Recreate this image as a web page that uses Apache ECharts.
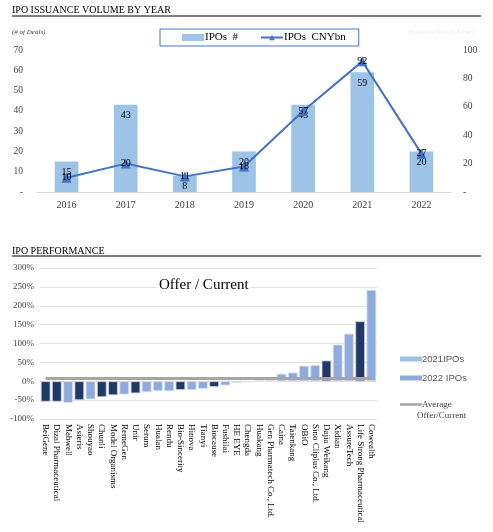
<!DOCTYPE html>
<html>
<head>
<meta charset="utf-8">
<title>IPO Issuance / Performance</title>
<script src="https://cdn.jsdelivr.net/npm/echarts@6/dist/echarts.min.js"></script>
<style>
    html, body { margin: 0; padding: 0; background: #fff; }
    #main { width: 493px; height: 532px; }
</style>
</head>
<body>
<div id="main"></div>
<script>
// top chart data
let years = ['2016', '2017', '2018', '2019', '2020', '2021', '2022'];
let ipoCount = [15, 43, 8, 20, 43, 59, 20];
let ipoSize = [10, 20, 11, 18, 57, 92, 27];

// bottom chart data (offer / current, %)
let companies = ['BeiGene', 'Dizal Pharmaceutical', 'Mabwell', 'Asieris', 'Shouyao', 'Chunli',
    'Model Organisms', 'RemeGen', 'Unir', 'Serum', 'Hualan', 'Rendu', 'Bio-Sincerity', 'Hinova',
    'Tianyi', 'Biocause', 'Fushilai', 'HE EYE', 'Chengda', 'Huakang', 'Gen Pharmatech Co., Ltd.',
    'Caina', 'Taienkang', 'OBiO', 'Sino Cliplus Co., Ltd.', 'Dajia Weikang', 'Xidian', 'AssureTech',
    'Life Strong Pharmaceutical', 'Cowealth'];
let perf = [-54, -54, -57, -50, -48, -42, -37, -35, -32, -29, -26, -26, -23, -23, -20, -15, -11, -4, -2,
    2, 3, 20, 23, 41, 43, 55, 97, 126, 159, 242];
let darkBar = [1, 1, 0, 1, 0, 1, 1, 0, 1, 0, 0, 0, 1, 0, 0, 1, 0, 0, 0, 0, 0, 0, 0, 0, 0, 1, 0, 0, 1, 0];
let perfTicks = ['-100%', '-50%', '0%', '50%', '100%', '150%', '200%', '250%', '300%'];

let serif = '"Liberation Serif", "Times New Roman", serif';
let sans = '"Liberation Sans", Arial, sans-serif';

let avg = perf.reduce(function (a, b) { return a + b; }, 0) / perf.length;
let lightData = perf.map(function (v, i) { return darkBar[i] ? null : v; });
let darkData = perf.map(function (v, i) { return darkBar[i] ? v : null; });
let avgData = perf.map(function () { return +avg.toFixed(1); });

function zeroDash(v) {
    return v === 0 ? '-' : v;
}

function perfLabel(v) {
    return perfTicks[(v + 100) / 50];
}

let myChart = echarts.init(document.getElementById('main'));

let option = {
    animation: false,
    textStyle: { fontFamily: serif },
    graphic: [
        { type: 'text', left: 12, top: 5, style: { text: 'IPO ISSUANCE VOLUME BY YEAR', font: '10px ' + serif, fill: '#000' } },
        { type: 'line', shape: { x1: 12, y1: 16, x2: 481, y2: 16 }, style: { stroke: '#000', lineWidth: 1 } },
        { type: 'text', left: 12, top: 29, style: { text: '(# of Deals)', font: 'italic 7px ' + serif, fill: '#404040' } },
        { type: 'text', left: 408, top: 29, style: { text: '(Issuance Size, CNYbn)', font: 'italic 7px ' + serif, fill: '#e3f0d8' } },
        { type: 'text', left: 12, top: 246, style: { text: 'IPO PERFORMANCE', font: '10px ' + serif, fill: '#000' } },
        { type: 'line', shape: { x1: 12, y1: 256, x2: 481, y2: 256 }, style: { stroke: '#000', lineWidth: 1 } },
        {
            type: 'text', left: 157, top: 277, z: 10,
            style: { text: 'Offer / Current', font: '15px ' + serif, fill: '#000', backgroundColor: '#fff', padding: [1, 2] }
        },
        { type: 'text', left: 417, top: 411, style: { text: 'Offer/Current', font: '9px ' + serif, fill: '#404040' } }
    ],
    legend: [{
        left: 160,
        top: 29,
        height: 18,
        padding: [3, 13, 3, 22],
        itemGap: 22,
        itemWidth: 22,
        itemHeight: 7,
        borderColor: '#4472C4',
        borderWidth: 1,
        textStyle: { fontFamily: serif, fontSize: 11, color: '#000', padding: [0, 0, 0, -4] },
        data: [{ name: 'IPOs  #', icon: 'rect' }, 'IPOs  CNYbn']
    }, {
        left: 395,
        top: 349,
        orient: 'vertical',
        itemGap: 9,
        itemWidth: 22,
        itemHeight: 5,
        textStyle: { fontFamily: sans, fontSize: 9.5, color: '#595959', padding: [0, 0, 0, -5] },
        data: [
            { name: '2021IPOs', icon: 'rect', itemStyle: { color: '#9DC3E6', borderWidth: 0 } },
            { name: '2022 IPOs', icon: 'rect', itemStyle: { color: '#8FAADC', borderWidth: 0 } }
        ]
    }, {
        left: 395,
        top: 395,
        itemWidth: 22,
        itemHeight: 2.5,
        textStyle: { fontFamily: serif, fontSize: 9, color: '#404040', padding: [0, 0, 0, -5] },
        formatter: function () { return 'Average'; },
        data: [{ name: 'Average Offer/Current', icon: 'rect', itemStyle: { color: '#A5A5A5' } }]
    }],
    grid: [
        { left: 37, right: 42, top: 50, height: 142 },
        { left: 40, right: 116, top: 268, height: 151 }
    ],
    xAxis: [{
        gridIndex: 0,
        type: 'category',
        data: years,
        axisLine: { lineStyle: { color: '#D9D9D9' } },
        axisTick: { show: false },
        axisLabel: { margin: 8, fontFamily: serif, fontSize: 10, color: '#404040' }
    }, {
        gridIndex: 1,
        type: 'category',
        data: companies,
        axisLine: { show: false, onZero: false },
        axisTick: { show: false },
        axisLabel: { rotate: -90, interval: 0, margin: 5, fontFamily: serif, fontSize: 9, color: '#000' }
    }],
    yAxis: [{
        gridIndex: 0,
        type: 'value',
        min: 0,
        max: 70,
        interval: 10,
        splitLine: { show: false },
        axisLabel: { margin: 14, fontFamily: serif, fontSize: 9.5, color: '#404040', formatter: zeroDash }
    }, {
        gridIndex: 0,
        type: 'value',
        position: 'right',
        min: 0,
        max: 100,
        interval: 20,
        splitLine: { show: false },
        axisLabel: { margin: 12, fontFamily: serif, fontSize: 9.5, color: '#404040', formatter: zeroDash }
    }, {
        gridIndex: 1,
        type: 'value',
        min: -100,
        max: 300,
        interval: 50,
        splitLine: { lineStyle: { color: '#E3E3E3', width: 1 } },
        axisLabel: { margin: 6, fontFamily: serif, fontSize: 9, color: '#404040', formatter: perfLabel }
    }],
    series: [{
        name: 'IPOs  #',
        type: 'bar',
        xAxisIndex: 0,
        yAxisIndex: 0,
        data: ipoCount,
        barWidth: '40%',
        itemStyle: { color: '#9DC3E6' },
        label: { show: true, position: 'insideTop', distance: 6, fontFamily: serif, fontSize: 10, color: '#000' }
    }, {
        name: 'IPOs  CNYbn',
        type: 'line',
        xAxisIndex: 0,
        yAxisIndex: 1,
        data: ipoSize,
        symbol: 'triangle',
        symbolSize: 10,
        lineStyle: { color: '#4472C4', width: 2 },
        itemStyle: { color: '#4472C4' },
        label: { show: true, position: 'inside', fontFamily: serif, fontSize: 10, color: '#000' }
    }, {
        name: '2022 IPOs',
        type: 'bar',
        xAxisIndex: 1,
        yAxisIndex: 2,
        stack: 'perf',
        data: lightData,
        barCategoryGap: '14%',
        itemStyle: { color: '#8FAADC', borderColor: '#D6DEEE', borderWidth: 0.8 }
    }, {
        name: '2021IPOs',
        type: 'bar',
        xAxisIndex: 1,
        yAxisIndex: 2,
        stack: 'perf',
        data: darkData,
        barCategoryGap: '14%',
        itemStyle: { color: '#203864', borderColor: '#C9D3E6', borderWidth: 0.8 }
    }, {
        name: 'Average Offer/Current',
        type: 'line',
        xAxisIndex: 1,
        yAxisIndex: 2,
        data: avgData,
        symbol: 'none',
        z: 5,
        lineStyle: { color: '#A5A5A5', width: 3 },
        itemStyle: { color: '#A5A5A5' }
    }]
};

myChart.setOption(option);
</script>
</body>
</html>
